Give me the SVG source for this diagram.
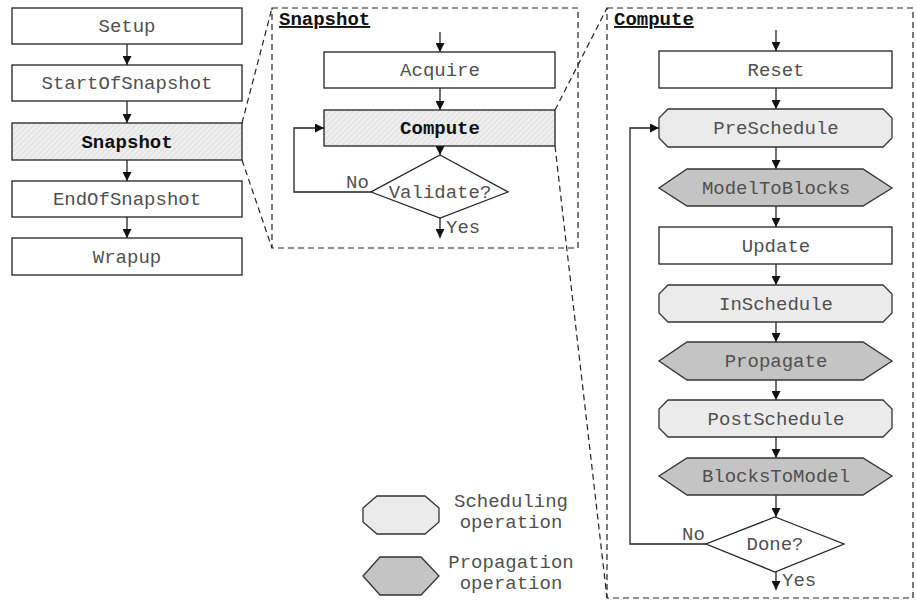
<svg xmlns="http://www.w3.org/2000/svg" width="916" height="602" viewBox="0 0 916 602">
<defs>
<style>
.box{fill:#fff;stroke:#222;stroke-width:1.3}
.hatch{fill:url(#hp);stroke:#222;stroke-width:1.3}
.sch{fill:#ebebeb;stroke:#333;stroke-width:1.3}
.prop{fill:#c4c4c4;stroke:#333;stroke-width:1.3}
.dia{fill:#fff;stroke:#222;stroke-width:1.3}
.t{font-family:"Liberation Mono","Courier New",monospace;font-size:19px;fill:#505050;text-anchor:middle}
.b{font-weight:bold;fill:#111}
.title{font-family:"Liberation Mono","Courier New",monospace;font-size:19px;font-weight:bold;fill:#111;text-decoration:underline}
.lbl{font-family:"Liberation Mono","Courier New",monospace;font-size:19px;fill:#505050}
.c{fill:none;stroke:#222;stroke-width:1.3}
.dash{fill:none;stroke:#222;stroke-width:1.2;stroke-dasharray:6,4}
</style>
<pattern id="hp" width="4" height="4" patternUnits="userSpaceOnUse" patternTransform="rotate(45)">
<rect width="4" height="4" fill="#eeeeee"/>
<line x1="0" y1="0" x2="0" y2="4" stroke="#d2d2d2" stroke-width="1.2"/>
</pattern>
<marker id="ah" markerWidth="9" markerHeight="9" refX="9" refY="4.5" orient="auto" markerUnits="userSpaceOnUse">
<path d="M0,0 L9,4.5 L0,9 z" fill="#111"/>
</marker>
</defs>

<g id="panels">
<rect class="dash" x="272" y="8" width="306" height="240"/>
<rect class="dash" x="607" y="8" width="306" height="590"/>
<line class="dash" x1="242" y1="123" x2="272" y2="8"/>
<line class="dash" x1="242" y1="160" x2="272" y2="248"/>
<line class="dash" x1="555" y1="110" x2="607" y2="8"/>
<line class="dash" x1="555" y1="146" x2="607" y2="598"/>
<text class="title" x="279" y="25">Snapshot</text>
<text class="title" x="614" y="25">Compute</text>
</g>

<g id="connectors">
<line class="c" x1="127" y1="44" x2="127" y2="65" marker-end="url(#ah)"/>
<line class="c" x1="127" y1="101" x2="127" y2="123" marker-end="url(#ah)"/>
<line class="c" x1="127" y1="160" x2="127" y2="181" marker-end="url(#ah)"/>
<line class="c" x1="127" y1="217" x2="127" y2="238" marker-end="url(#ah)"/>

<line class="c" x1="440" y1="32" x2="440" y2="52" marker-end="url(#ah)"/>
<line class="c" x1="440" y1="88" x2="440" y2="110" marker-end="url(#ah)"/>
<line class="c" x1="440" y1="146" x2="440" y2="155" marker-end="url(#ah)"/>
<polyline class="c" points="371,192 294,192 294,128 324,128" marker-end="url(#ah)"/>
<line class="c" x1="440" y1="218" x2="440" y2="238" marker-end="url(#ah)"/>
<text class="lbl" x="346" y="188">No</text>
<text class="lbl" x="446" y="233">Yes</text>

<line class="c" x1="776" y1="30" x2="776" y2="51" marker-end="url(#ah)"/>
<line class="c" x1="776" y1="88" x2="776" y2="109" marker-end="url(#ah)"/>
<line class="c" x1="776" y1="147" x2="776" y2="169" marker-end="url(#ah)"/>
<line class="c" x1="776" y1="206" x2="776" y2="227" marker-end="url(#ah)"/>
<line class="c" x1="776" y1="264" x2="776" y2="285" marker-end="url(#ah)"/>
<line class="c" x1="776" y1="322" x2="776" y2="342" marker-end="url(#ah)"/>
<line class="c" x1="776" y1="380" x2="776" y2="400" marker-end="url(#ah)"/>
<line class="c" x1="776" y1="437" x2="776" y2="458" marker-end="url(#ah)"/>
<line class="c" x1="776" y1="495" x2="776" y2="517" marker-end="url(#ah)"/>
<polyline class="c" points="706,544 630,544 630,128 659,128" marker-end="url(#ah)"/>
<line class="c" x1="776" y1="572" x2="776" y2="590" marker-end="url(#ah)"/>
<text class="lbl" x="682" y="540">No</text>
<text class="lbl" x="782" y="586">Yes</text>
</g>

<g id="setup"><rect class="box" x="12" y="8" width="230" height="36"/><text class="t" x="127" y="32">Setup</text></g>
<g id="startofsnapshot"><rect class="box" x="12" y="65" width="230" height="36"/><text class="t" x="127" y="89">StartOfSnapshot</text></g>
<g id="snapshot"><rect class="hatch" x="12" y="123" width="230" height="37"/><text class="t b" x="127" y="148">Snapshot</text></g>
<g id="endofsnapshot"><rect class="box" x="12" y="181" width="230" height="36"/><text class="t" x="127" y="205">EndOfSnapshot</text></g>
<g id="wrapup"><rect class="box" x="12" y="238" width="230" height="37"/><text class="t" x="127" y="263">Wrapup</text></g>

<g id="acquire"><rect class="box" x="324" y="52" width="231" height="36"/><text class="t" x="440" y="76">Acquire</text></g>
<g id="compute"><rect class="hatch" x="324" y="110" width="231" height="36"/><text class="t b" x="440" y="134">Compute</text></g>
<g id="validate"><polygon class="dia" points="440,155 508,192 440,218 371,192"/><text class="t" x="440" y="198">Validate?</text></g>

<g id="reset"><rect class="box" x="659" y="51" width="233" height="37"/><text class="t" x="776" y="76">Reset</text></g>
<g id="preschedule"><polygon class="sch" points="668,109 883,109 892,118 892,138 883,147 668,147 659,138 659,118"/><text class="t" x="776" y="134">PreSchedule</text></g>
<g id="modeltoblocks"><polygon class="prop" points="687,169 863,169 892,188 863,206 687,206 659,188"/><text class="t" x="776" y="194">ModelToBlocks</text></g>
<g id="update"><rect class="box" x="659" y="227" width="233" height="37"/><text class="t" x="776" y="252">Update</text></g>
<g id="inschedule"><polygon class="sch" points="668,285 883,285 892,294 892,313 883,322 668,322 659,313 659,294"/><text class="t" x="776" y="310">InSchedule</text></g>
<g id="propagate"><polygon class="prop" points="687,342 863,342 892,361 863,380 687,380 659,361"/><text class="t" x="776" y="367">Propagate</text></g>
<g id="postschedule"><polygon class="sch" points="668,400 883,400 892,409 892,428 883,437 668,437 659,428 659,409"/><text class="t" x="776" y="425">PostSchedule</text></g>
<g id="blockstomodel"><polygon class="prop" points="687,458 863,458 892,476 863,495 687,495 659,476"/><text class="t" x="776" y="482">BlocksToModel</text></g>
<g id="done"><polygon class="dia" points="775,517 844,544 775,572 706,544"/><text class="t" x="775" y="550">Done?</text></g>

<g id="legend-scheduling"><polygon class="sch" points="377,496 425,496 439,508 439,522 425,534 377,534 363,522 363,508"/><text class="t" x="511" y="507">Scheduling</text><text class="t" x="511" y="528">operation</text></g>
<g id="legend-propagation"><polygon class="prop" points="380,557 421,557 439,576 421,595 380,595 363,576"/><text class="t" x="511" y="568">Propagation</text><text class="t" x="511" y="589">operation</text></g>
</svg>
